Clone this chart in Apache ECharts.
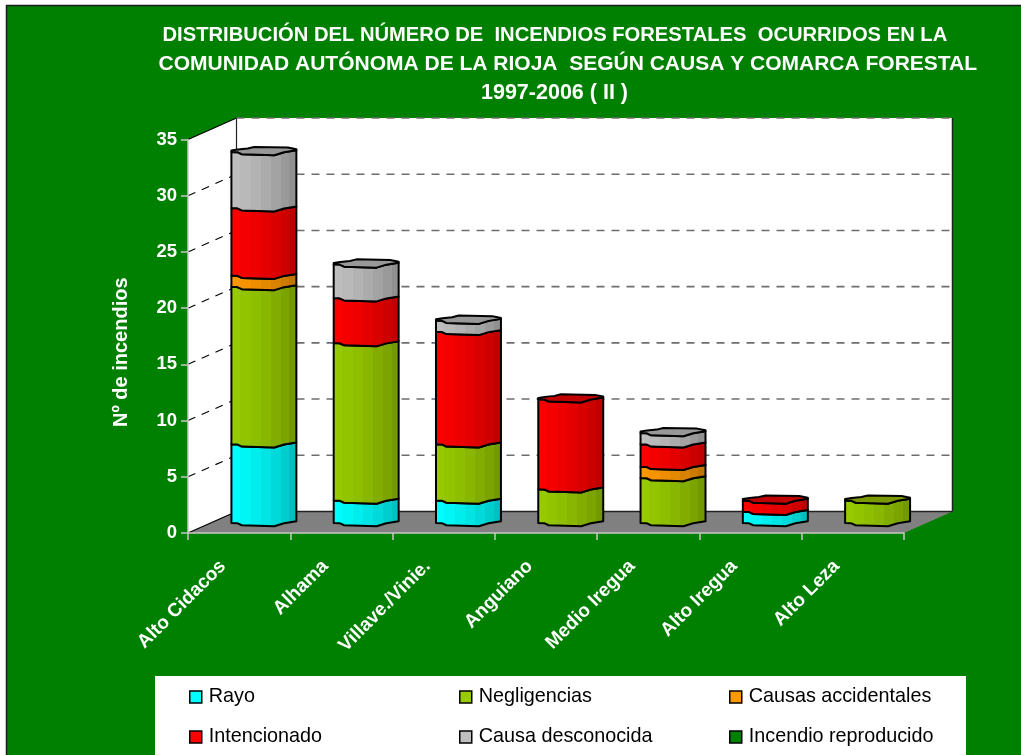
<!DOCTYPE html>
<html>
<head>
<meta charset="utf-8">
<style>
  html, body { margin: 0; padding: 0; background: #fff; }
  #main { width: 1021px; height: 755px; }
</style>
<script src="https://cdn.jsdelivr.net/npm/echarts@6/dist/echarts.min.js"></script>
</head>
<body>
<div id="main"></div>
<script>
const categories = ['Alto Cidacos', 'Alhama', 'Villave./Vinie.', 'Anguiano', 'Medio Iregua', 'Alto Iregua', 'Alto Leza'];
const yTicks = [5, 10, 15, 20, 25, 30, 35];

const rayo = [7, 2, 2, 0, 0, 1, 0];
const negligencias = [14, 14, 5, 3, 4, 0, 2];
const accidentales = [1, 0, 0, 0, 1, 0, 0];
const intencionado = [6, 4, 10, 8, 2, 1, 0];
const desconocida = [5, 3, 1, 0, 1, 0, 0];
const reproducido = [0, 0, 0, 0, 0, 0, 0];

const causes = [
  { name: 'Rayo', values: rayo, light: [0, 255, 255], dark: [0, 192, 192], top: '#00c0c0' },
  { name: 'Negligencias', values: negligencias, light: [153, 204, 0], dark: [115, 153, 0], top: '#7a9900' },
  { name: 'Causas accidentales', values: accidentales, light: [255, 153, 0], dark: [191, 115, 0], top: '#bf7300' },
  { name: 'Intencionado', values: intencionado, light: [255, 0, 0], dark: [192, 0, 0], top: '#c00000' },
  { name: 'Causa desconocida', values: desconocida, light: [192, 192, 192], dark: [144, 144, 144], top: '#989898' },
  { name: 'Incendio reproducido', values: reproducido, light: [0, 128, 0], dark: [0, 96, 0], top: '#006000' }
];

// profundidad del grafico 3D
const depthX = 48.5;
const depthY = -21.5;
const barFraction = 0.635;

// perfil del cilindro (fraccion del ancho, px)
const frontEdge = [[0, 0.7], [0.09, 0.9], [0.16, 3], [0.66, 4], [0.81, 1], [1, -1]];
const backEdge = [[1, -2], [0.87, -3.7], [0.35, -4.3], [0.25, -2.7], [0.1, -1.7], [0, -0.7]];
const facets = [0, 0.06, 0.14, 0.3, 0.45, 0.6, 0.75, 0.88, 1];

function mix(c1, c2, t) {
  const c = c1.map((v, i) => Math.round(v + (c2[i] - v) * t));
  return 'rgb(' + c.join(',') + ')';
}

function facetFill(cause) {
  const stops = [];
  for (let i = 0; i < facets.length - 1; i++) {
    const t = Math.pow(i / (facets.length - 2), 1.5);
    const color = mix(cause.light, cause.dark, t);
    stops.push({ offset: facets[i], color: color });
    stops.push({ offset: facets[i + 1], color: color });
  }
  return new echarts.graphic.LinearGradient(0, 0, 1, 0, stops);
}

function cylinderSeries(cause, index) {
  const fill = facetFill(cause);
  const data = categories.map((c, i) => {
    const start = causes.slice(0, index).reduce((s, k) => s + k.values[i], 0);
    const end = start + cause.values[i];
    const total = causes.reduce((s, k) => s + k.values[i], 0);
    return [i, start, end, end === total ? 1 : 0];
  });
  return {
    name: cause.name,
    type: 'custom',
    z: 3,
    silent: true,
    itemStyle: { color: mix(cause.light, cause.light, 0) },
    data: data,
    encode: { x: 0, y: 2 },
    renderItem: function (params, api) {
      const i = api.value(0);
      const from = api.value(1);
      const to = api.value(2);
      if (to === from) return { type: 'group', children: [] };
      const width = api.size([1, 0])[0] * barFraction;
      const p0 = api.coord([i, from]);
      const p1 = api.coord([i, to]);
      const left = p0[0] + depthX / 2 - width / 2 + 0.5;
      const y0 = p0[1] + depthY / 2;
      const y1 = p1[1] + depthY / 2;
      const ring = (edge, y) => edge.map(e => [left + e[0] * width, y + e[1]]);
      const lineStyle = { stroke: '#000', lineWidth: 2, lineJoin: 'round' };
      const children = [{
        type: 'polygon',
        shape: { points: ring(frontEdge, y0).concat(ring(frontEdge, y1).reverse()) },
        style: Object.assign({ fill: fill }, lineStyle)
      }];
      if (api.value(3) === 1) {
        children.push({
          type: 'polygon',
          shape: { points: ring(frontEdge, y1).concat(ring(backEdge, y1)) },
          style: Object.assign({ fill: cause.top }, lineStyle)
        });
      }
      return { type: 'group', children: children };
    }
  };
}

// paredes y suelo
const wallsSeries = {
  type: 'custom',
  z: 1,
  silent: true,
  data: [[0, 0]],
  encode: { x: 0, y: 1 },
  renderItem: function (params, api) {
    const cs = params.coordSys;
    const x = cs.x, y = cs.y, w = cs.width, h = cs.height;
    const bl = [x + depthX, y + h + depthY];
    const br = [x + w + depthX, y + h + depthY];
    const tl = [x + depthX, y + depthY];
    const tr = [x + w + depthX, y + depthY];
    return {
      type: 'group',
      children: [
        { type: 'polygon', shape: { points: [[x, y], tl, bl, [x, y + h]] }, style: { fill: '#fff' } },
        { type: 'polygon', shape: { points: [tl, tr, br, bl] }, style: { fill: '#fff' } },
        { type: 'polygon', shape: { points: [[x, y + h], bl, br, [x + w, y + h]] }, style: { fill: '#808080' } },
        { type: 'line', shape: { x1: x, y1: y + h, x2: bl[0], y2: bl[1] }, style: { stroke: '#000', lineWidth: 1.2 } },
        { type: 'line', shape: { x1: bl[0], y1: bl[1], x2: br[0], y2: br[1] }, style: { stroke: '#222', lineWidth: 1.5 } },
        { type: 'line', shape: { x1: x, y1: y, x2: tl[0], y2: tl[1] }, style: { stroke: '#000', lineWidth: 1.2 } },
        { type: 'line', shape: { x1: tl[0], y1: tl[1], x2: bl[0], y2: bl[1] }, style: { stroke: '#222', lineWidth: 1.2 } },
        { type: 'line', shape: { x1: tr[0], y1: tr[1], x2: br[0], y2: br[1] }, style: { stroke: '#222', lineWidth: 1.5 } }
      ]
    };
  }
};

// lineas de division sobre las paredes
const gridSeries = {
  type: 'custom',
  z: 2,
  silent: true,
  data: yTicks.map(v => [0, v]),
  encode: { x: 0, y: 1 },
  renderItem: function (params, api) {
    const cs = params.coordSys;
    const y = api.coord([0, api.value(1)])[1];
    const children = [{
      type: 'line',
      shape: { x1: cs.x + depthX, y1: y + depthY, x2: cs.x + cs.width + depthX, y2: y + depthY },
      style: { stroke: '#6e6e6e', lineWidth: 1.6, lineDash: [8, 7] }
    }];
    if (api.value(1) < 35) {
      children.push({
        type: 'line',
        shape: { x1: cs.x, y1: y, x2: cs.x + depthX, y2: y + depthY },
        style: { stroke: '#000', lineWidth: 1.1, lineDash: [8, 7] }
      });
    }
    return { type: 'group', children: children };
  }
};

const legendText = { color: '#000', fontSize: 19.8, fontFamily: 'Liberation Sans', padding: [0, 0, 0, 2] };
const legendBase = {
  orient: 'vertical',
  top: 687,
  padding: 0,
  itemWidth: 12,
  itemHeight: 12,
  itemGap: 20,
  icon: 'rect',
  selectedMode: false,
  textStyle: legendText,
  itemStyle: { borderColor: '#000', borderWidth: 1.5 }
};

const titleStyle = { color: '#fff', fontWeight: 'bold', fontFamily: 'Liberation Sans', lineHeight: 29 };
function titleLine(text, left, top, size) {
  return {
    text: text,
    left: left,
    top: top,
    padding: 0,
    textStyle: Object.assign({}, titleStyle, { fontSize: size })
  };
}

const chart = echarts.init(document.getElementById('main'));
chart.setOption({
  animation: false,
  title: [
    titleLine('DISTRIBUCIÓN DEL NÚMERO DE  INCENDIOS FORESTALES  OCURRIDOS EN LA', 162.5, 21, 20.2),
    titleLine('COMUNIDAD AUTÓNOMA DE LA RIOJA  SEGÚN CAUSA Y COMARCA FORESTAL', 158.5, 50, 21),
    titleLine('1997-2006 ( II )', 481, 79, 21.5)
  ],
  graphic: [{
    type: 'rect',
    z: -2,
    shape: { x: 6.5, y: 5.5, width: 1030, height: 770 },
    style: { fill: '#008000', stroke: '#1c1c1c', lineWidth: 1.5 }
  }, {
    type: 'rect',
    z: -1,
    shape: { x: 155, y: 676, width: 811, height: 79 },
    style: { fill: '#fff' }
  }],
  legend: [
    Object.assign({ left: 189, data: ['Rayo', 'Intencionado'] }, legendBase),
    Object.assign({ left: 459, data: ['Negligencias', 'Causa desconocida'] }, legendBase),
    Object.assign({ left: 729, data: ['Causas accidentales', 'Incendio reproducido'] }, legendBase)
  ],
  grid: { left: 188, right: 117, top: 139.5, bottom: 222 },
  xAxis: {
    type: 'category',
    data: categories,
    z: 5,
    axisLine: { lineStyle: { color: '#c8c8c8', width: 1.5 } },
    axisTick: { show: true, length: 7, lineStyle: { color: '#c8c8c8', width: 1.5 } },
    axisLabel: { rotate: 45, interval: 0, margin: 14, padding: [0, 23, 0, 0], color: '#fff', fontSize: 19, fontWeight: 'bold', fontFamily: 'Liberation Sans' }
  },
  yAxis: {
    type: 'value',
    min: 0,
    max: 35,
    interval: 5,
    z: 5,
    name: 'Nº de incendios',
    nameLocation: 'middle',
    nameGap: 57,
    nameTextStyle: { color: '#fff', fontSize: 20, fontWeight: 'bold', fontFamily: 'Liberation Sans', padding: [0, 32, 0, 0] },
    splitLine: { show: false },
    axisLine: { show: true, lineStyle: { color: '#c8c8c8', width: 1.5 } },
    axisTick: { show: true, length: 7, lineStyle: { color: '#c8c8c8', width: 1.5 } },
    axisLabel: { margin: 11, color: '#fff', fontSize: 18.5, fontWeight: 'bold', fontFamily: 'Liberation Sans' }
  },
  series: [wallsSeries, gridSeries].concat(causes.map(cylinderSeries))
});
</script>
</body>
</html>
